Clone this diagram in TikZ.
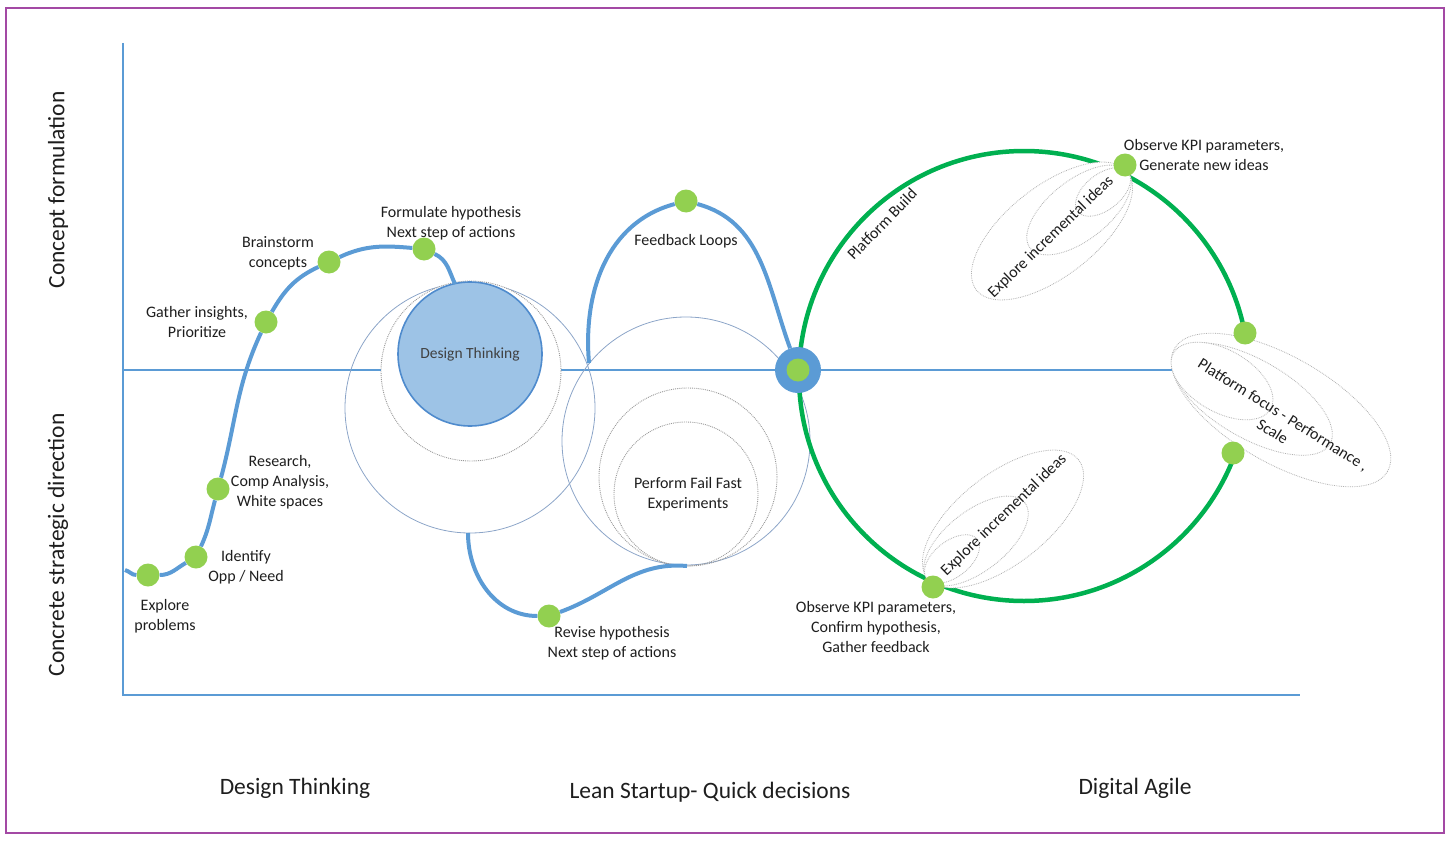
\documentclass[tikz,border=0pt]{standalone}
\usepackage{fontspec}
\setmainfont{Carlito}

\definecolor{axisblue}{RGB}{91,155,213}
\definecolor{dotgreen}{RGB}{146,208,80}
\definecolor{ringgreen}{RGB}{0,176,80}
\definecolor{dtfill}{RGB}{157,195,230}
\definecolor{dtline}{RGB}{79,139,205}
\definecolor{thinring}{RGB}{140,165,200}
\definecolor{framecol}{RGB}{163,73,164}
\definecolor{ink}{RGB}{30,30,30}

\begin{document}
\begin{tikzpicture}
            [x=1pt, y=1pt,
             every node/.style={text=ink, font=\fontsize{16}{20}\selectfont, align=center},
             dot/.style={shape=circle, fill=dotgreen, inner sep=0, minimum size=23pt},
             curve/.style={line width=4pt, axisblue},
             axis/.style={line width=1.8pt, axisblue},
             ring/.style={line width=0.8pt, thinring},
             dotring/.style={line width=0.9pt, black!40, densely dotted},
             idea/.style={line width=0.8pt, black!30, densely dotted, fill=white},
             big/.style={font=\fontsize{23.5}{28}\selectfont}]

            \useasboundingbox (0,0) rectangle (1447,-840);
            \draw[framecol, line width=1.8pt] (6,-8) rectangle (1444,-833);

            % axes and the middle divider
            \coordinate (top) at (123,-43);
            \coordinate (origin) at (123,-695);
            \coordinate (right) at (1300,-695);
            \coordinate (mid0) at (123,-370);
            \coordinate (mid1) at (1174,-370);
            \draw[axis] (top) -- (origin) -- (right);
            \draw[axisblue, line width=1.4pt] (mid0) -- (mid1);

            % design thinking rings
            \draw[ring] (470,-408) circle (125);
            \draw[dotring, fill=white] (471,-371) circle (90);
            \node[circle, fill=dtfill, draw=dtline, line width=1.6pt, minimum size=144pt, inner sep=0,
                  text=black!75, font=\fontsize{15.5}{19}\selectfont] (dt) at (470,-354) {Design Thinking};

            % fail fast rings
            \draw[ring] (686,-441) circle (124);
            \draw[dotring] (688,-477) circle (89);
            \draw[dotring] (686,-494) circle (72);
            \node (fail) at (688,-494) {Perform Fail Fast\\Experiments};

            % platform ring
            \draw[ringgreen, line width=4.5pt] (1024,-376) circle (225);

            % incremental ideas, top
            \draw[idea, rotate around={38:(1052,-231)}] (1052,-231) ellipse (96 and 45);
            \draw[idea, rotate around={38:(1079,-210)}] (1079,-210) ellipse (62 and 30);
            \draw[idea, rotate around={38:(1103,-192)}] (1103,-192) ellipse (32 and 18);
            % incremental ideas, bottom
            \draw[idea, rotate around={38:(1003,-519)}] (1003,-519) ellipse (96 and 45);
            \draw[idea, rotate around={38:(976,-541)}] (976,-541) ellipse (62 and 30);
            \draw[idea, rotate around={38:(952,-559)}] (952,-559) ellipse (32 and 18);
            % platform focus
            \draw[idea, rotate around={-30:(1281,-410)}] (1281,-410) ellipse (123 and 53);
            \draw[idea, rotate around={-30:(1252,-399)}] (1252,-399) ellipse (90 and 39);
            \draw[idea, rotate around={-30:(1222,-381)}] (1222,-381) ellipse (56 and 31);

            % hub
            \node[circle, fill=axisblue, inner sep=0, minimum size=46pt] (hub) at (798,-370) {};
            \node[dot] (hubdot) at (798,-370) {};

            % milestones
            \node[dot] (p1) at (148,-575) {};
            \node[dot] (p2) at (196,-557) {};
            \node[dot] (p3) at (218,-489) {};
            \node[dot] (p4) at (266,-322) {};
            \node[dot] (p5) at (329,-262) {};
            \node[dot] (p6) at (424,-249) {};
            \node[dot] (p7) at (549,-616) {};
            \node[dot] (p8) at (686,-201) {};
            \node[dot] (p9) at (1125,-165) {};
            \node[dot] (p10) at (1245,-333) {};
            \node[dot] (p11) at (1233,-453) {};
            \node[dot] (p12) at (933,-587) {};

            \coordinate (s0) at (125,-570);
            \coordinate (s1) at (455,-284);
            \coordinate (r0) at (468,-533);
            \coordinate (r1) at (687,-566);
            \coordinate (f0) at (589,-363);

            \draw[curve] (s0) to [out=-15,in=180] (p1);
            \draw[curve] (p1) to [out=0,in=210] (p2);
            \draw[curve] (p2) to [out=65,in=255] (p3);
            \draw[curve] (p3) to [out=75,in=245] (p4);
            \draw[curve] (p4) to [out=60,in=205] (p5);
            \draw[curve] (p5) to [out=25,in=175] (p6);
            \draw[curve] (p6) to [out=-25,in=115] (s1);
            \draw[curve] (r0) to [out=-90,in=180] (p7);
            \draw[curve] (p7) to [out=20,in=175] (r1);
            \draw[curve] (f0) to [out=95,in=195] (p8);
            \draw[curve] (p8) to [out=-15,in=110] (hub);

            % milestone texts
            \node (t1) at (165,-616) {Explore\\problems};
            \node (t2) at (246,-567) {Identify\\Opp / Need};
            \node (t3) at (280,-482) {Research,\\Comp Analysis,\\White spaces};
            \node (t4) at (197,-322) {Gather insights,\\Prioritize};
            \node (t5) at (278,-253) {Brainstorm\\concepts};
            \node (t6) at (451,-223) {Formulate hypothesis\\Next step of actions};
            \node (t7) at (612,-643) {Revise hypothesis\\Next step of actions};
            \node (t8) at (686,-241) {Feedback Loops};
            \node (t9) at (1204,-155) {Observe KPI parameters,\\Generate new ideas};
            \node (t10) at (876,-627) {Observe KPI parameters,\\Confirm hypothesis,\\Gather feedback};
            \node[rotate=46] (t11) at (882,-224) {Platform Build};
            \node[rotate=44] (t12) at (1051,-237) {Explore incremental ideas};
            \node[rotate=44] (t13) at (1004,-515) {Explore incremental ideas};
            \node[rotate=-32] (t14) at (1278,-423) {Platform focus - Performance ,\\Scale};

            % axis and phase names
            \node[rotate=90, big] (concept) at (58,-190) {Concept formulation};
            \node[rotate=90, big] (concrete) at (58,-545) {Concrete strategic direction};
            \node[big] (phase1) at (295,-788) {Design Thinking};
            \node[big] (phase2) at (710,-792) {Lean Startup- Quick decisions};
            \node[big] (phase3) at (1135,-788) {Digital Agile};
          \end{tikzpicture}
\end{document}
